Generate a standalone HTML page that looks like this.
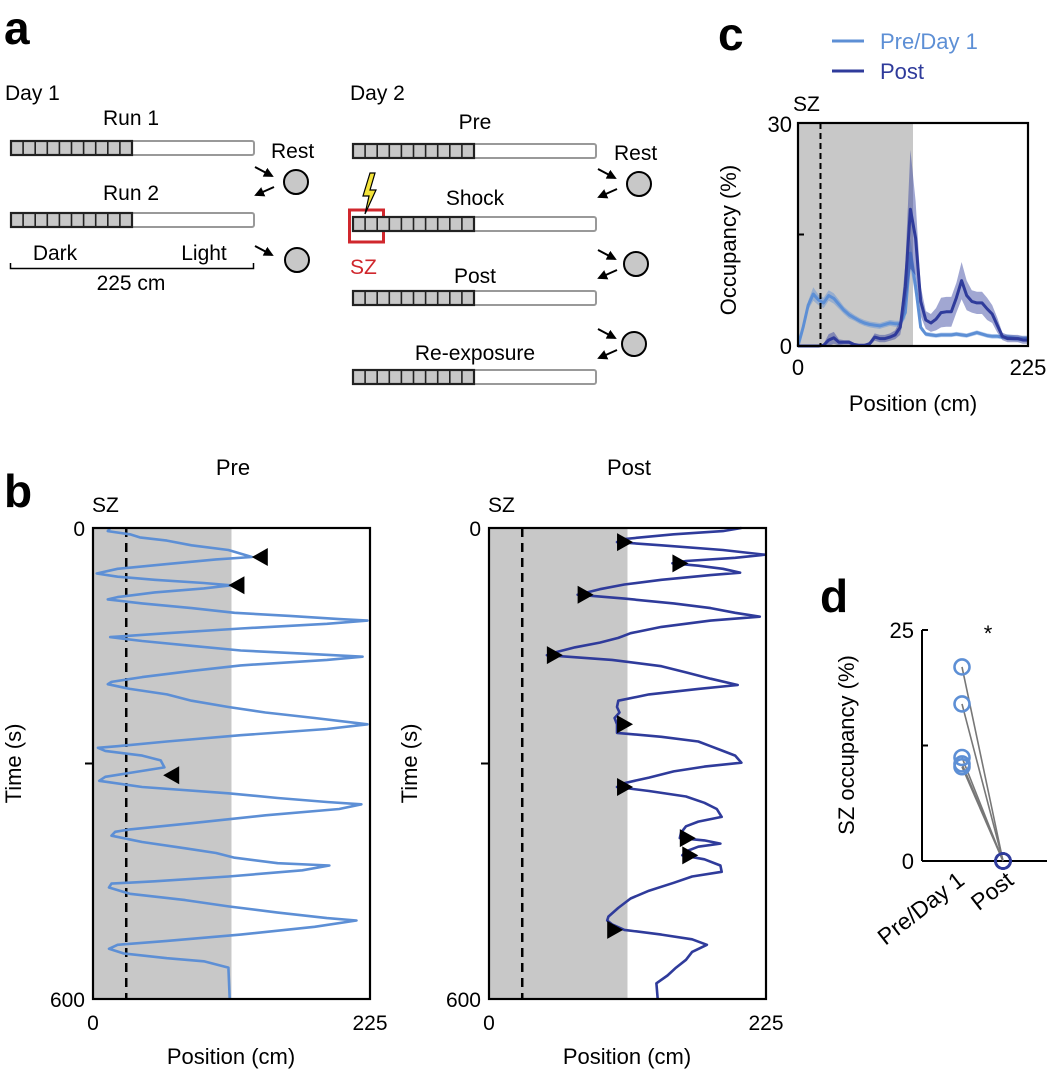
<!DOCTYPE html>
<html><head><meta charset="utf-8"><style>
html,body{margin:0;padding:0;background:#fff}
svg{display:block;font-family:"Liberation Sans",Arial,sans-serif}
</style></head><body>
<svg id="fig" width="1050" height="1076" viewBox="0 0 1050 1076" xmlns="http://www.w3.org/2000/svg">
<defs><marker id="ah" viewBox="0 0 10 10" refX="8" refY="5" markerWidth="5" markerHeight="5" orient="auto"><path d="M0 0 L10 5 L0 10 Z" fill="#000"/></marker></defs>
<!-- Panel a -->
<g>
<text x="4" y="44" font-size="46" font-weight="bold">a</text>
<text x="5" y="100" font-size="21">Day 1</text>
<text x="131" y="125" font-size="21" text-anchor="middle">Run 1</text>
<text x="131" y="200" font-size="21" text-anchor="middle">Run 2</text>
<text x="271" y="158" font-size="21">Rest</text>
<text x="55" y="260" font-size="21" text-anchor="middle">Dark</text>
<text x="204" y="260" font-size="21" text-anchor="middle">Light</text>
<path d="M10.5 263 V268.5 H253.5 V263" fill="none" stroke="#000" stroke-width="1.5"/>
<text x="131" y="290" font-size="21" text-anchor="middle">225 cm</text>
<text x="350" y="100" font-size="21">Day 2</text>
<text x="475" y="129" font-size="21" text-anchor="middle">Pre</text>
<text x="614" y="160" font-size="21">Rest</text>
<text x="475" y="205" font-size="21" text-anchor="middle">Shock</text>
<text x="475" y="283" font-size="21" text-anchor="middle">Post</text>
<text x="475" y="360" font-size="21" text-anchor="middle">Re-exposure</text>
<rect x="349.5" y="210" width="34" height="32" fill="none" stroke="#d0272d" stroke-width="3"/>
<text x="350" y="274" font-size="21" fill="#d0272d">SZ</text>
<path d="M370 173 L363 196 L369 196 L365 214 L376 190 L370 190 L375 173 Z" fill="#f3e33a" stroke="#000" stroke-width="1.2"/>
<g id="tracks"></g>
<g id="rests" stroke="#000" stroke-width="2" fill="none"></g>
</g>

<!-- Panel b -->
<text x="4" y="507" font-size="46" font-weight="bold">b</text>
<g id="pb"></g>

<!-- Panel c -->
<text x="718" y="50" font-size="46" font-weight="bold">c</text>
<g id="pc"></g>

<!-- Panel d -->
<text x="820" y="612" font-size="46" font-weight="bold">d</text>
<g id="pd"></g>
</svg>
<script>
// ---------- data ----------
const preTime = [0,4,8,12,16,22,28,35,37,40,46,52,58,62,66,70,73,77,82,88,91,96,102,108,112,116,118,122,128,134,139,144,150,156,160,164,168,175,182,190,196,199,205,212,220,228,235,242,250,256,264,272,278,280,284,290,296,305,312,317,322,330,338,344,349,352,358,366,376,384,387,392,400,408,414,420,427,430,436,444,450,453,458,466,474,482,490,497,500,508,518,526,531,536,542,548,552,560,600];
const prePos  = [14,12,30,38,60,80,110,125,129,100,60,20,3,20,50,90,112,90,50,20,12,40,80,115,160,200,223,190,120,60,14,40,80,120,170,219,190,120,80,40,15,12,30,60,80,110,140,180,223,190,120,60,20,4,10,40,55,58,30,10,5,40,110,150,190,218,200,140,80,30,18,15,40,75,100,115,150,192,170,110,50,15,13,30,75,110,150,190,214,180,120,60,20,13,25,60,90,110,111,112];
const preArrowTime = [37,73,315];
const preArrowPos  = [129,110,57];
const postTime = [0,4,8,14,18,22,28,34,38,42,45,48,52,57,60,66,72,78,85,90,96,102,108,113,118,126,134,140,146,152,158,162,168,176,184,192,200,205,212,220,228,235,242,250,258,261,266,272,278,284,290,299,304,310,318,325,330,335,342,350,358,368,374,380,388,395,398,402,406,412,417,422,430,438,444,452,462,472,484,495,500,505,512,518,524,531,540,550,560,570,580,600];
const postPos  = [205,190,150,110,104,140,190,224,200,160,149,170,190,204,180,140,110,90,72,110,150,180,200,220,180,140,115,105,90,70,55,47,100,140,160,180,202,170,130,105,104,106,102,104,104,104,140,170,180,190,200,205,175,150,130,110,104,130,160,175,185,189,170,160,156,155,175,188,170,160,157,175,188,189,165,150,130,115,105,97,96,100,110,140,165,177,165,160,152,145,136,137];
const postArrowTime = [18,45,85,162,250,330,395,417,512];
const postArrowPos  = [104,149,72,47,104,104,155,157,96];

const occPos  = [0,5,10,15,20,25,30,35,40,45,50,55,60,65,70,75,80,85,90,95,100,105,110,115,120,125,130,135,140,145,150,155,160,165,170,175,180,185,190,195,200,205,210,215,220,225];
const occPre  = [0,2.5,5.5,7,6.2,5.8,6.8,6.4,5.6,4.8,4.2,3.8,3.4,3.1,2.9,2.8,2.7,2.9,3.1,3.0,3.0,4.5,12.5,8,2.5,1.6,1.5,1.4,1.5,1.5,1.5,1.6,1.5,1.4,1.6,1.8,1.6,1.4,1.3,1.3,1.2,1.2,1.1,1.0,1.0,1.0];
const occPreSem = [0,0.4,0.6,0.9,0.7,0.7,0.7,0.7,0.6,0.5,0.5,0.4,0.4,0.4,0.4,0.4,0.4,0.4,0.4,0.4,0.4,0.8,2,1.5,0.4,0.3,0.3,0.3,0.3,0.3,0.3,0.3,0.3,0.3,0.3,0.3,0.3,0.3,0.3,0.3,0.3,0.4,0.4,0.4,0.4,0.4];
const occPost = [0,0,0,0,0,0.1,0.8,1.1,0.5,0.5,0.5,0.2,0.1,0.1,0.3,1.2,1.0,1.0,1.2,1.5,2.5,8,18.4,14.5,6,3.5,3.1,3.6,4.5,4.6,4.6,6.5,8.8,6.8,6,5.8,5.8,5,4.3,2.8,1.3,1.0,1.0,1.0,0.8,0.8];
const occPostSem = [0,0,0,0,0,0.2,0.8,0.8,0.4,0.3,0.3,0.2,0.1,0.1,0.3,0.5,0.5,0.5,0.5,0.6,1,3,8,5,2,1.2,1.2,1.5,2,2,2,2,2.5,2,1.5,1.5,1.5,1.5,1.2,1,0.5,0.5,0.5,0.5,0.5,0.5];

const szPre  = [21,17,11.2,10.5,10.2];
const szPost = [0,0,0,0,0];

const LIGHT = '#5d8fd5', DARK = '#2f3b9b', GRAY = '#c8c8c8';
const NS = 'http://www.w3.org/2000/svg';
function mk(parent, tag, attrs, text){
  const e = document.createElementNS(NS, tag);
  for (const k in attrs) e.setAttribute(k, attrs[k]);
  if (text !== undefined) e.textContent = text;
  parent.appendChild(e);
  return e;
}

// ---------- panel a tracks ----------
const tracks = document.getElementById('tracks');
function track(x, y, name){
  const g = mk(tracks, 'g', {});
  
  
  mk(g, 'rect', {x:x, y:y, width:243, height:14, rx:2, fill:'#fff', stroke:'#999', 'stroke-width':2});
  mk(g, 'rect', {x:x, y:y, width:121, height:14, fill:'#c8c8c8', stroke:'#222', 'stroke-width':2.2});
  for (let i=1;i<10;i++) mk(g, 'line', {x1:x+i*12.1, y1:y, x2:x+i*12.1, y2:y+14, stroke:'#222', 'stroke-width':1.6});
}
track(11,141,'track-run1'); track(11,213,'track-run2');
track(353,144,'track-pre'); track(353,217,'track-shock');
track(353,291,'track-post'); track(353,370,'track-reexposure');
const rests = document.getElementById('rests');
function rest(cx, cy, outY, inY, ax){
  const c = mk(rests, 'circle', {cx:cx, cy:cy, r:12, fill:'#c8c8c8'});
  
  
  if (inY !== null) mk(rests, 'line', {x1:ax, y1:inY, x2:ax+17, y2:inY+9, 'marker-end':'url(#ah)'});
  if (outY !== null) mk(rests, 'line', {x1:ax+19, y1:outY, x2:ax+1, y2:outY+8, 'marker-end':'url(#ah)'});
}
rest(296,182,187,167,255); rest(297,260,null,246,255);
rest(639,184,189,169,598); rest(636,264,270,250,598); rest(634,344,350,329,598);

// ---------- panel b ----------
const pb = document.getElementById('pb');
function tracePanel(x0, title, szx, times, pos, color, aT, aP, dir, name){
  const W=277, H=471, y0=528;
  const sx = p => x0 + p/225*W, sy = t => y0 + t/600*H;
  const g = mk(pb,'g',{});
  
  
  mk(g,'rect',{x:x0,y:y0,width:sx(112.5)-x0,height:H,fill:GRAY});
  mk(g,'line',{x1:sx(27),y1:y0,x2:sx(27),y2:y0+H,stroke:'#000','stroke-width':2.5,'stroke-dasharray':'9,6'});
  let d='';
  times.forEach((t,i)=>{ d += (i?'L':'M') + sx(pos[i]).toFixed(1)+' '+sy(t).toFixed(1); });
  const pl = mk(g,'path',{d:d,fill:'none',stroke:color,'stroke-width':2.6,'stroke-linejoin':'round'});
  
  
  aT.forEach((t,i)=>{
    const ax = sx(aP[i]), ay = sy(t);
    const pts = dir<0 ? `${ax},${ay} ${ax+16},${ay-9} ${ax+16},${ay+9}` : `${ax},${ay-9} ${ax},${ay+9} ${ax+16},${ay}`;
    const tri = mk(g,'polygon',{points:pts,fill:'#000'});
    
    
  });
  mk(g,'rect',{x:x0,y:y0,width:W,height:H,fill:'none',stroke:'#000','stroke-width':2.2});
  mk(g,'line',{x1:x0-8,y1:sy(300),x2:x0,y2:sy(300),stroke:'#000','stroke-width':2});
  const tt = mk(g,'text',{x:x0+140,y:475,'font-size':22,'text-anchor':'middle'},title);
  
  
  mk(g,'text',{x:x0-1,y:512,'font-size':21},'SZ');
  mk(g,'text',{x:x0-8,y:536,'font-size':21,'text-anchor':'end'},'0');
  mk(g,'text',{x:x0-8,y:1007,'font-size':21,'text-anchor':'end'},'600');
  mk(g,'text',{x:x0,y:1030,'font-size':21,'text-anchor':'middle'},'0');
  mk(g,'text',{x:x0+W,y:1030,'font-size':21,'text-anchor':'middle'},'225');
  const xl = mk(g,'text',{x:x0+138,y:1064,'font-size':22,'text-anchor':'middle'},'Position (cm)');
  
  
  const yl = mk(g,'text',{x:0,y:0,'font-size':22,'text-anchor':'middle',transform:`translate(${x0-72},${sy(300)}) rotate(-90)`},'Time (s)');
  
  
}
tracePanel(93,'Pre',126,preTime,prePos,LIGHT,preArrowTime,preArrowPos,-1,'pre-trajectory-plot');
tracePanel(489,'Post',521,postTime,postPos,DARK,postArrowTime,postArrowPos,1,'post-trajectory-plot');

// ---------- panel c ----------
const pc = document.getElementById('pc');
(function(){
  const x0=798, x1=1028, yb=346, yt=123;
  const sx = p => x0 + p/225*(x1-x0), sy = v => yb - v/30*(yb-yt);
  mk(pc,'rect',{x:x0,y:yt,width:sx(112.5)-x0,height:yb-yt,fill:GRAY});
  function band(vals, sem, color, name){
    let up='', dn='';
    occPos.forEach((p,i)=>{ up += (i?'L':'M')+sx(p).toFixed(1)+' '+sy(vals[i]+sem[i]).toFixed(1); });
    for (let i=occPos.length-1;i>=0;i--) dn += 'L'+sx(occPos[i]).toFixed(1)+' '+sy(Math.max(0,vals[i]-sem[i])).toFixed(1);
    const b = mk(pc,'path',{d:up+dn+'Z',fill:color,'fill-opacity':0.45});
    
    
    let d='';
    occPos.forEach((p,i)=>{ d += (i?'L':'M')+sx(p).toFixed(1)+' '+sy(vals[i]).toFixed(1); });
    const l = mk(pc,'path',{d:d,fill:'none',stroke:color,'stroke-width':3,'stroke-linejoin':'round'});
    
    
  }
  band(occPre, occPreSem, LIGHT, 'pre-day1');
  band(occPost, occPostSem, DARK, 'post');
  mk(pc,'line',{x1:sx(22),y1:yt,x2:sx(22),y2:yb,stroke:'#000','stroke-width':2,'stroke-dasharray':'6,4'});
  mk(pc,'rect',{x:x0,y:yt,width:x1-x0,height:yb-yt,fill:'none',stroke:'#000','stroke-width':2.2});
  mk(pc,'line',{x1:x0,y1:sy(15),x2:x0+6,y2:sy(15),stroke:'#000','stroke-width':2});
  mk(pc,'text',{x:x0-6,y:yt+9,'font-size':22,'text-anchor':'end'},'30');
  mk(pc,'text',{x:x0-6,y:yb+8,'font-size':22,'text-anchor':'end'},'0');
  mk(pc,'text',{x:x0,y:375,'font-size':22,'text-anchor':'middle'},'0');
  mk(pc,'text',{x:x1,y:375,'font-size':22,'text-anchor':'middle'},'225');
  mk(pc,'text',{x:793,y:111,'font-size':21},'SZ');
  const xl = mk(pc,'text',{x:913,y:411,'font-size':22,'text-anchor':'middle'},'Position (cm)');
  
  
  const yl = mk(pc,'text',{x:0,y:0,'font-size':22,'text-anchor':'middle',transform:'translate(736,240) rotate(-90)'},'Occupancy (%)');
  
  
  const l1 = mk(pc,'g',{});
  
  
  mk(l1,'line',{x1:832,y1:41,x2:864,y2:41,stroke:LIGHT,'stroke-width':3});
  mk(l1,'text',{x:880,y:49,'font-size':22,fill:LIGHT},'Pre/Day 1');
  const l2 = mk(pc,'g',{});
  
  
  mk(l2,'line',{x1:832,y1:71,x2:864,y2:71,stroke:DARK,'stroke-width':3});
  mk(l2,'text',{x:880,y:79,'font-size':22,fill:DARK},'Post');
})();

// ---------- panel d ----------
const pd = document.getElementById('pd');
(function(){
  const ax=922, yb=861, yt=630, xPre=962, xPost=1003;
  const sy = v => yb - v/25*(yb-yt);
  mk(pd,'line',{x1:ax,y1:yt,x2:ax,y2:yb,stroke:'#000','stroke-width':2});
  mk(pd,'line',{x1:ax,y1:yb,x2:1047,y2:yb,stroke:'#000','stroke-width':2});
  mk(pd,'line',{x1:ax,y1:yt,x2:ax+6,y2:yt,stroke:'#000','stroke-width':2});
  mk(pd,'line',{x1:ax,y1:sy(12.5),x2:ax+6,y2:sy(12.5),stroke:'#000','stroke-width':2});
  szPre.forEach((v,i)=>{
    const ln = mk(pd,'line',{x1:xPre,y1:sy(v),x2:xPost,y2:sy(szPost[i]),stroke:'#777','stroke-width':1.6});
    
    
  });
  szPre.forEach((v)=>{
    const c = mk(pd,'circle',{cx:xPre,cy:sy(v),r:7.5,fill:'none',stroke:LIGHT,'stroke-width':2.6});
    
    
  });
  szPost.forEach((v)=>{
    const c = mk(pd,'circle',{cx:xPost,cy:sy(v),r:7.5,fill:'none',stroke:DARK,'stroke-width':2.6});
    
    
  });
  mk(pd,'text',{x:ax-8,y:yt+8,'font-size':22,'text-anchor':'end'},'25');
  mk(pd,'text',{x:ax-8,y:yb+8,'font-size':22,'text-anchor':'end'},'0');
  mk(pd,'text',{x:988,y:641,'font-size':22,'text-anchor':'middle'},'*');
  const yl = mk(pd,'text',{x:0,y:0,'font-size':22,'text-anchor':'middle',transform:'translate(854,745) rotate(-90)'},'SZ occupancy (%)');
  
  
  const t1 = mk(pd,'text',{x:0,y:0,'font-size':23,'text-anchor':'end',transform:`translate(${xPre+4},${yb+22}) rotate(-38)`},'Pre/Day 1');
  
  
  const t2 = mk(pd,'text',{x:0,y:0,'font-size':23,'text-anchor':'end',transform:`translate(${xPost+12},${yb+22}) rotate(-38)`},'Post');
  
  
})();
</script>
</body></html>
